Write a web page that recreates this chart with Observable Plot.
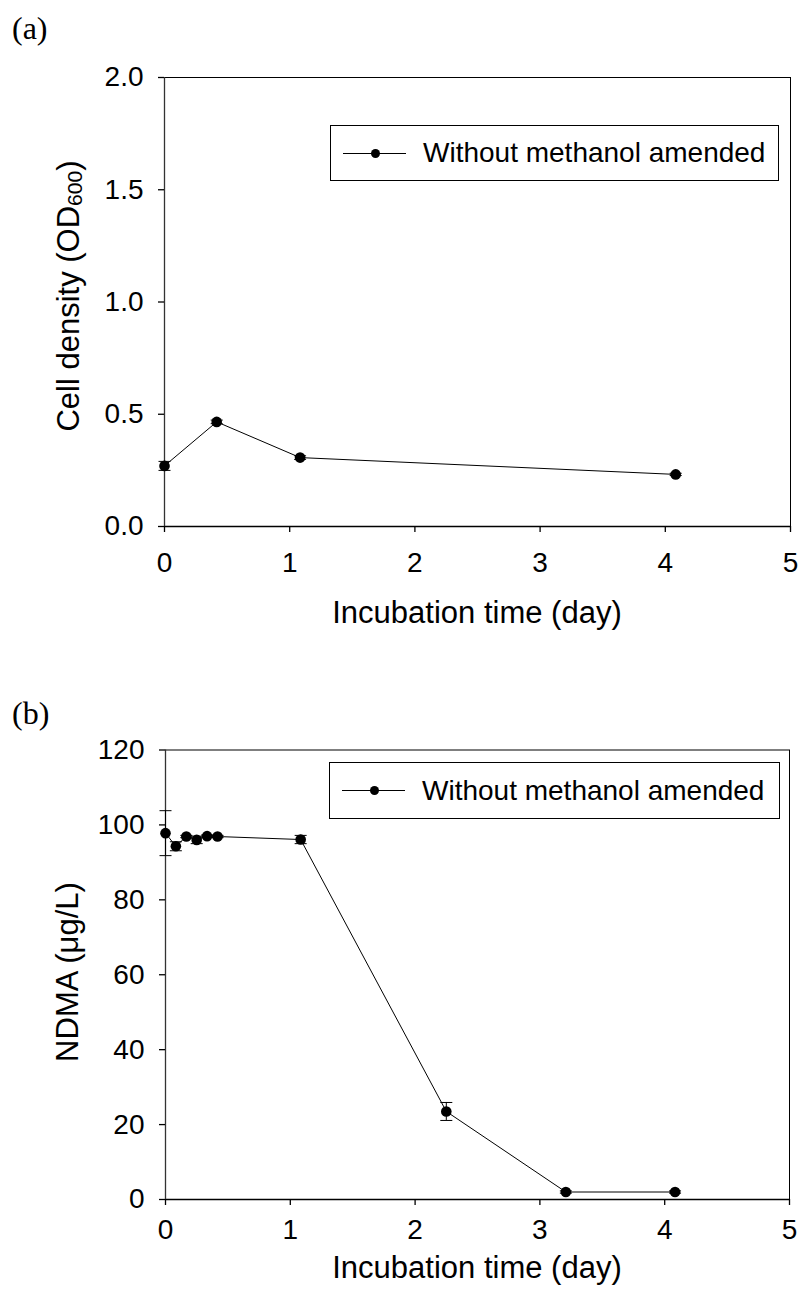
<!DOCTYPE html>
<html>
<head>
<meta charset="utf-8">
<script src="https://cdn.jsdelivr.net/npm/d3@7"></script>
<script src="https://cdn.jsdelivr.net/npm/@observablehq/plot@0.6"></script>
<style>
  html, body { margin: 0; padding: 0; background: white; }
  #page { position: relative; width: 800px; height: 1302px; overflow: hidden; font-family: "Liberation Sans", Arial, sans-serif; color: black; }
  .panel { position: absolute; left: 0; }
  .lbl { position: absolute; white-space: nowrap; line-height: 1; }
  #page .serif { font-family: "Liberation Serif", "Times New Roman", serif; font-size: 32px; }
  .axlab { font-size: 31px; transform: translate(-50%, -50%); }
  .ylab { transform: translate(-50%, -50%) rotate(-90deg); }
  .legend { position: absolute; box-sizing: border-box; border: 1px solid black; background: white; }
  .legend .ln { position: absolute; height: 1px; background: black; }
  .legend .dt { position: absolute; width: 9px; height: 9px; border-radius: 50%; background: black; }
  .legend .tx { position: absolute; font-size: 28px; line-height: 1; white-space: nowrap; transform: translateY(-50%); }
  .sub { font-size: 0.68em; position: relative; top: 0.15em; }
</style>
</head>
<body>
<div id="page"></div>
<script>
// ---- data ----
const seriesName = "Without methanol amended";
const xTicks = [0, 1, 2, 3, 4, 5];

// Panel (a): cell density
const aDays = [0, 0.417, 1.083, 4.083];
const aOD = [0.27, 0.466, 0.307, 0.232];
const aErr = [0.02, 0.008, 0.008, 0.005];
const aYTicks = [0, 0.5, 1.0, 1.5, 2.0];

// Panel (b): NDMA
const bDays = [0, 0.083, 0.167, 0.25, 0.333, 0.417, 1.083, 2.25, 3.208, 4.083];
const bNDMA = [97.8, 94.3, 96.9, 96.0, 97.0, 96.9, 96.1, 23.5, 2.0, 2.0];
const bErr = [6.0, 1.2, 0.3, 1.0, 0.3, 0.3, 1.1, 2.4, 0.3, 0.3];
const bYTicks = [0, 20, 40, 60, 80, 100, 120];

const capSymbol = {
  draw(context, size) {
    const w = Math.sqrt(size / Math.PI);
    context.moveTo(-w, 0);
    context.lineTo(w, 0);
  }
};

function panel(days, vals, errs, yDomain, yTicks, fmt, m) {
  const data = days.map((x, i) => ({x, y: vals[i], e: errs[i]}));
  return Plot.plot({
    width: 800,
    height: 651,
    marginLeft: m.left,
    marginRight: m.right,
    marginTop: m.top,
    marginBottom: m.bottom,
    style: {fontFamily: '"Liberation Sans", Arial, sans-serif', fontSize: "28px", color: "black", background: "white", overflow: "visible"},
    x: {domain: [0, 5]},
    y: {domain: yDomain},
    marks: [
      Plot.frame({stroke: "black", strokeWidth: 1}),
      Plot.ruleY([yDomain[0]], {stroke: "black", strokeWidth: 1.5}),
      Plot.ruleX([0], {stroke: "#333", strokeWidth: 1.3}),
      Plot.axisX({ticks: xTicks, tickSize: 6, tickPadding: m.xpad, tickFormat: d3.format("d"), label: null, strokeWidth: 1.3}),
      Plot.axisY({ticks: yTicks, tickSize: 6, tickPadding: 15, tickFormat: fmt, label: null, strokeWidth: 1.3}),
      Plot.ruleX(data, {x: "x", y1: d => d.y - d.e, y2: d => d.y + d.e, stroke: "black", strokeWidth: 1}),
      Plot.dot(data, {x: "x", y: d => d.y + d.e, symbol: capSymbol, r: 6, stroke: "black", strokeWidth: 1, fill: "none"}),
      Plot.dot(data, {x: "x", y: d => d.y - d.e, symbol: capSymbol, r: 6, stroke: "black", strokeWidth: 1, fill: "none"}),
      Plot.line(data, {x: "x", y: "y", stroke: "black", strokeWidth: 1}),
      Plot.dot(data, {x: "x", y: "y", r: 5.3, fill: "black", stroke: "none"})
    ]
  });
}

const page = document.getElementById("page");

function addPanel(svg, top) {
  const wrap = document.createElement("div");
  wrap.className = "panel";
  wrap.style.top = top + "px";
  wrap.appendChild(svg);
  page.appendChild(wrap);
}

addPanel(panel(aDays, aOD, aErr, [0, 2], aYTicks, d3.format(".1f"),
  {left: 164, right: 10, top: 77, bottom: 125, xpad: 20}), 0);
addPanel(panel(bDays, bNDMA, bErr, [0, 120], bYTicks, d3.format("d"),
  {left: 165, right: 11, top: 98.5, bottom: 103, xpad: 14}), 651);

function label(html, cls, left, top) {
  const d = document.createElement("div");
  d.className = "lbl " + cls;
  d.style.left = left + "px";
  d.style.top = top + "px";
  d.innerHTML = html;
  page.appendChild(d);
}

// panel letters
label("(a)", "serif", 12, 12);
label("(b)", "serif", 12, 697);
// axis titles
label("Incubation time (day)", "axlab", 477, 612);
label("Incubation time (day)", "axlab", 477, 1267);
label('Cell density (OD<span class="sub">600</span>)', "axlab ylab", 68, 296);
label("NDMA (&mu;g/L)", "axlab ylab", 67, 972);

function legend(left, top, width, height) {
  const box = document.createElement("div");
  box.className = "legend";
  Object.assign(box.style, {left: left + "px", top: top + "px", width: width + "px", height: height + "px"});
  const cy = height / 2 - 1;
  const ln = document.createElement("div");
  ln.className = "ln";
  Object.assign(ln.style, {left: "12px", width: "63px", top: (cy - 0.5) + "px"});
  const dt = document.createElement("div");
  dt.className = "dt";
  Object.assign(dt.style, {left: (44 - 4.5) + "px", top: (cy - 4.5) + "px"});
  const tx = document.createElement("div");
  tx.className = "tx";
  Object.assign(tx.style, {left: "92px", top: cy + "px"});
  tx.textContent = seriesName;
  box.append(ln, dt, tx);
  page.appendChild(box);
}
legend(330, 125, 449, 56);
legend(329, 762, 451, 57);
</script>
</body>
</html>
